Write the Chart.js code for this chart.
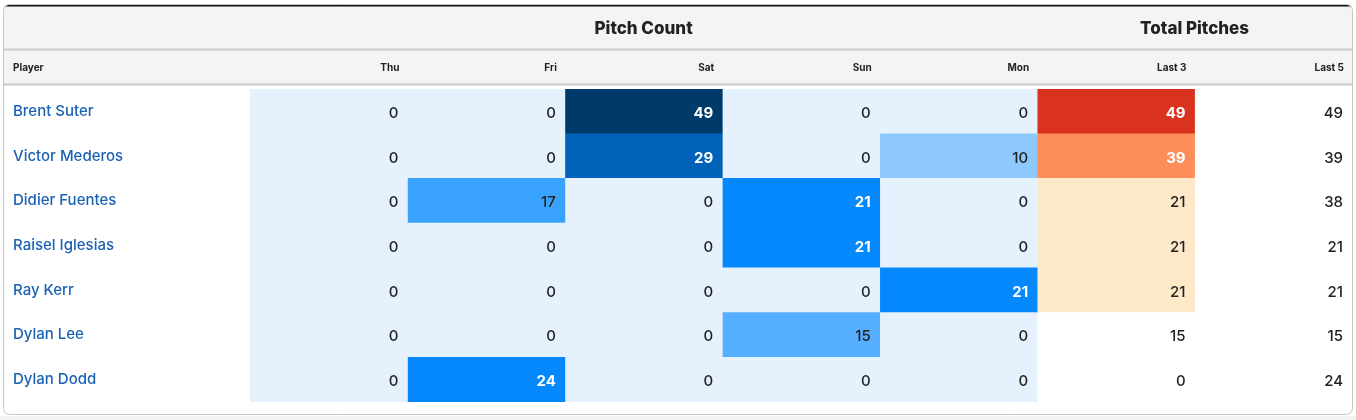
<!DOCTYPE html>
<html>
<head>
<meta charset="utf-8">
<script src="https://cdn.jsdelivr.net/npm/chart.js@4"></script>
<style>
  html, body { margin: 0; padding: 0; background: #ffffff; }
  #wrap { width: 1356px; height: 420px; }
</style>
</head>
<body>
<div id="wrap"><canvas id="myChart" width="1356" height="420"></canvas></div>
<script>
// table data
var players = ['Brent Suter', 'Victor Mederos', 'Didier Fuentes', 'Raisel Iglesias', 'Ray Kerr', 'Dylan Lee', 'Dylan Dodd']
var columns = ['Thu', 'Fri', 'Sat', 'Sun', 'Mon', 'Last 3', 'Last 5']
var thu = [0, 0, 0, 0, 0, 0, 0]
var fri = [0, 0, 17, 0, 0, 0, 24]
var sat = [49, 29, 0, 0, 0, 0, 0]
var sun = [0, 0, 21, 21, 0, 15, 0]
var mon = [0, 10, 0, 0, 21, 0, 0]
var last3 = [49, 39, 21, 21, 21, 15, 0]
var last5 = [49, 39, 38, 21, 21, 15, 24]

var values = [thu, fri, sat, sun, mon, last3, last5]
var groups = [
    { label: 'Pitch Count', from: 0, to: 5 },
    { label: 'Total Pitches', from: 5, to: 7 },
]

function pitchColor(v) {
    if (v == 0) return '#e5f1fd'
    if (v <= 12) return '#8ec9fd'
    if (v <= 16) return '#55aefe'
    if (v <= 19) return '#38a2fc'
    if (v <= 26) return '#0688fd'
    if (v <= 35) return '#0062b8'
    return '#003a6b'
}
function totalColor(v) {
    if (v < 20) return '#ffffff'
    if (v <= 25) return '#fde8c8'
    if (v <= 45) return '#fe8e59'
    return '#d9321f'
}
function cellColor(c, v) {
    if (c < 5) return pitchColor(v)
    if (c == 5) return totalColor(v)
    return '#ffffff'
}
function textColor(c, v) {
    if (c < 5 && v >= 20) return '#ffffff'
    if (c == 5 && v >= 30) return '#ffffff'
    return '#222222'
}

var FONT = 'Inter, "Noto Sans", sans-serif'

// frame + header rows
var framePlugin = {
    id: 'frame',
    beforeDraw: function(chart) {
        var ctx = chart.ctx
        var x = chart.scales.x
        ctx.save()
        ctx.fillStyle = '#ffffff'
        ctx.fillRect(0, 0, chart.width, chart.height)
        ctx.fillStyle = '#f2f2f2'
        ctx.fillRect(0, 416, chart.width, 4)

        // rounded box
        ctx.beginPath()
        ctx.roundRect(3.5, 4.5, 1349, 410, 6)
        ctx.save()
        ctx.clip()
        ctx.fillStyle = '#f4f4f4'
        ctx.fillRect(0, 0, chart.width, 85)
        ctx.fillStyle = '#111111'
        ctx.fillRect(0, 0, chart.width, 6.5)
        ctx.fillStyle = '#c9c9c9'
        ctx.fillRect(0, 48.5, chart.width, 2)
        ctx.fillRect(0, 83.5, chart.width, 2)
        ctx.restore()
        ctx.strokeStyle = '#c8c8c8'
        ctx.lineWidth = 1
        ctx.stroke()

        // group headers
        ctx.fillStyle = '#222222'
        ctx.font = '800 17px ' + FONT
        ctx.textAlign = 'center'
        ctx.textBaseline = 'middle'
        groups.forEach(function(g) {
            var mid = (x.getPixelForValue(g.from) + x.getPixelForValue(g.to)) / 2
            ctx.fillText(g.label, mid, 29)
        })

        // column headers
        ctx.font = '700 10px ' + FONT
        ctx.textAlign = 'left'
        ctx.fillText('Player', 13, 68)
        ctx.textAlign = 'right'
        columns.forEach(function(col, c) {
            ctx.fillText(col, x.getPixelForValue(c + 1) - 8, 68)
        })
        ctx.restore()
    }
}

// numbers inside the cells
var cellText = {
    id: 'cellText',
    afterDatasetsDraw: function(chart) {
        var ctx = chart.ctx
        ctx.save()
        ctx.textAlign = 'right'
        ctx.textBaseline = 'middle'
        chart.data.datasets.forEach(function(ds, c) {
            var meta = chart.getDatasetMeta(c)
            meta.data.forEach(function(bar, i) {
                var v = values[c][i]
                var col = textColor(c, v)
                ctx.fillStyle = col
                ctx.font = (col == '#ffffff' ? '700 ' : '500 ') + '15px ' + FONT
                var right = Math.max(bar.x, bar.base)
                ctx.fillText(String(v), right - 9, bar.y + 2)
            })
        })
        ctx.restore()
    }
}

function setChart() {
    var ctx = document.getElementById('myChart')
    var datasets = columns.map(function(col, c) {
        return {
            label: col,
            data: players.map(function() { return [c, c + 1] }),
            backgroundColor: function(context) {
                return cellColor(c, values[c][context.dataIndex])
            },
            borderWidth: 0,
            barPercentage: 1,
            categoryPercentage: 1,
            grouped: false,
        }
    })
    var myChart = new Chart(ctx, {
        type: 'bar',
        data: {
            labels: players,
            datasets: datasets,
        },
        options: {
            indexAxis: 'y',
            responsive: false,
            animation: false,
            devicePixelRatio: 1,
            layout: {
                padding: { left: 13, right: 4, top: 89, bottom: 18 }
            },
            plugins: {
                legend: { display: false },
                tooltip: { enabled: false },
            },
            scales: {
                x: {
                    type: 'linear',
                    min: 0,
                    max: 7,
                    display: false,
                },
                y: {
                    type: 'category',
                    grid: { display: false },
                    border: { display: false },
                    afterFit: function(scale) { scale.width = 237 },
                    ticks: {
                        crossAlign: 'far',
                        padding: 0,
                        color: '#1b62b5',
                        font: { family: FONT, size: 15, weight: '500' },
                    },
                },
            },
        },
        plugins: [framePlugin, cellText],
    })
}

setChart()
</script>
</body>
</html>
